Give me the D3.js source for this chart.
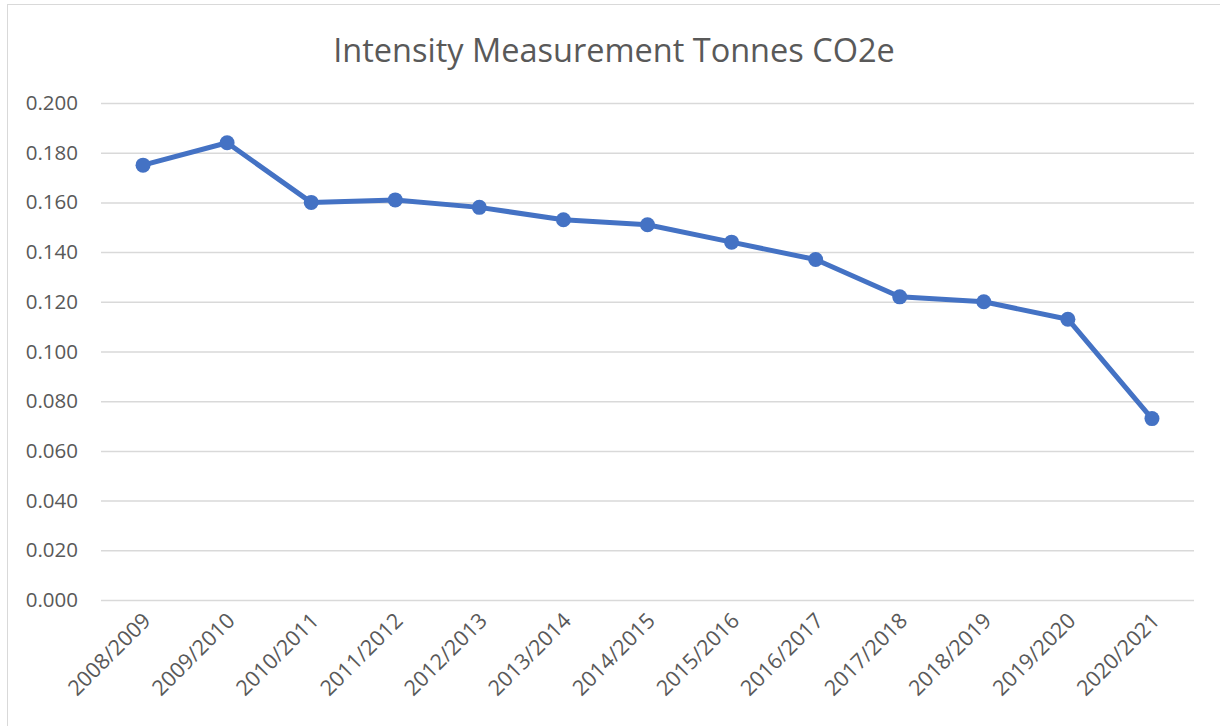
<!DOCTYPE html>
<html>
<head>
<meta charset="utf-8">
<script src="https://cdn.jsdelivr.net/npm/d3@7"></script>
<style>
  body { margin: 0; background: #fff; }
  svg { font-family: "Open Sans", sans-serif; }
</style>
</head>
<body>
<svg id="chart"></svg>
<script>
// chart data
var years = ['2008/2009', '2009/2010', '2010/2011', '2011/2012', '2012/2013', '2013/2014',
  '2014/2015', '2015/2016', '2016/2017', '2017/2018', '2018/2019', '2019/2020', '2020/2021'];
var intensity = [0.175, 0.184, 0.160, 0.161, 0.158, 0.153, 0.151, 0.144, 0.137, 0.122, 0.120, 0.113, 0.073];
var yTicks = [0, 0.02, 0.04, 0.06, 0.08, 0.1, 0.12, 0.14, 0.16, 0.18, 0.2];

var width = 1220;
var height = 726;
var margin = { top: 103, right: 26, bottom: 126, left: 101 };
var blue = '#4472C4';
var grey = '#595959';

var svg = d3.select('#chart')
    .attr('width', width)
    .attr('height', height);

// outer chart border
svg.append('rect')
    .attr('x', 7.5).attr('y', 4.5)
    .attr('width', width - 4).attr('height', height)
    .attr('fill', 'none')
    .attr('stroke', '#d9d9d9');

svg.append('text')
    .attr('x', 614)
    .attr('y', 62)
    .attr('text-anchor', 'middle')
    .attr('fill', grey)
    .style('font-size', '32.5px')
    .text('Intensity Measurement Tonnes CO2e');

var x = d3.scaleBand()
    .domain(years)
    .range([margin.left, width - margin.right]);

var y = d3.scaleLinear()
    .domain([0, 0.2])
    .range([height - margin.bottom, margin.top]);

// gridlines + y labels
var yAxis = svg.append('g')
    .attr('transform', 'translate(' + margin.left + ',0)')
    .call(d3.axisLeft(y)
      .tickValues(yTicks)
      .tickFormat(d3.format('.3f'))
      .tickSize(-(width - margin.left - margin.right))
      .tickPadding(23));
yAxis.select('.domain').remove();
yAxis.selectAll('line').attr('stroke', '#d9d9d9').attr('stroke-width', 1.5);
yAxis.selectAll('text')
    .attr('fill', grey)
    .style('font-size', '20.5px')
    .style('font-family', '"Open Sans", sans-serif');

// x labels
var xAxis = svg.append('g')
    .attr('transform', 'translate(0,' + (height - margin.bottom) + ')')
    .call(d3.axisBottom(x).tickSize(0).tickPadding(0));
xAxis.select('.domain').remove();
xAxis.selectAll('text')
    .attr('fill', grey)
    .style('font-size', '21.5px')
    .style('font-family', '"Open Sans", sans-serif')
    .attr('text-anchor', 'end')
    .attr('dy', 0)
    .attr('transform', 'translate(9,22) rotate(-45)');

var line = d3.line()
    .x(function(d, i) { return x(years[i]) + x.bandwidth() / 2; })
    .y(function(d) { return y(d); });

svg.append('path')
    .datum(intensity)
    .attr('d', line)
    .attr('fill', 'none')
    .attr('stroke', blue)
    .attr('stroke-width', 5)
    .attr('stroke-linejoin', 'round');

svg.selectAll('circle.pt')
    .data(intensity)
    .enter().append('circle')
    .attr('class', 'pt')
    .attr('cx', function(d, i) { return x(years[i]) + x.bandwidth() / 2; })
    .attr('cy', function(d) { return y(d); })
    .attr('r', 7.5)
    .attr('fill', blue);
</script>
</body>
</html>
